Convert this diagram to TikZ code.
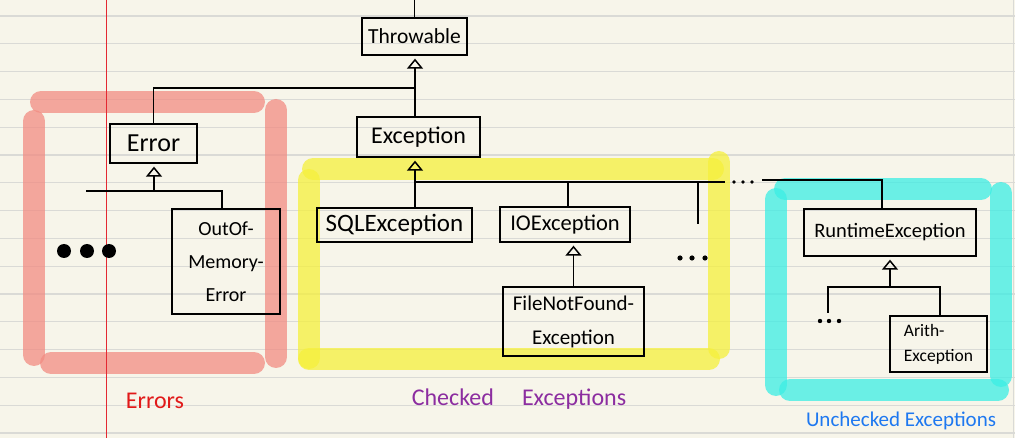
\documentclass[tikz,border=0pt]{standalone}
\usepackage{fontspec}
\setmainfont{Carlito}
\usetikzlibrary{arrows.meta}
\definecolor{paper}{RGB}{247,245,234}
\definecolor{rulecol}{RGB}{218,218,214}
\definecolor{margincol}{RGB}{228,40,50}
\definecolor{hlred}{RGB}{242,140,130}
\definecolor{hlyellow}{RGB}{245,240,60}
\definecolor{hlcyan}{RGB}{60,238,228}
\definecolor{lblred}{RGB}{225,25,25}
\definecolor{lblpurple}{RGB}{140,45,160}
\definecolor{lblblue}{RGB}{30,120,240}
\begin{document}
\begin{tikzpicture}[x=1pt,y=-1pt,
  cls/.style={draw=black, line width=1.3pt, inner sep=0pt, align=center},
  fs/.style 2 args={font=\fontsize{#1}{#2}\selectfont},
  inh/.style={line width=1.3pt, -{Triangle[open,width=16pt,length=10pt,line width=1.5pt]}, shorten >=3pt},
  link/.style={line width=1.3pt},
  hl/.style={line width=22pt, line cap=round, opacity=0.75},
  dotm/.style={fill=black}
]
\fill[paper] (0,0) rectangle (1015,438);
\useasboundingbox (0,0) rectangle (1015,438);
\foreach \k in {0,...,15} \draw[rulecol, line width=1.2pt] (0,{16+27.8*\k}) -- (1015,{16+27.8*\k});
\draw[rulecol, line width=1.5pt] (1013.5,0) -- (1013.5,438);

% highlights
\draw[hl, hlred] (41,102) -- (254,102);
\draw[hl, hlred] (34,121) -- (34,355);
\draw[hl, hlred] (51,363) -- (254,363);
\draw[hl, hlred] (276,110) -- (276,357);
\draw[hl, hlyellow] (313,169) -- (713,169);
\draw[hl, hlyellow] (309,180) -- (309,358);
\draw[hl, hlyellow] (309,359) -- (709,359);
\draw[hl, hlyellow] (719,162) -- (719,348);
\draw[hl, hlcyan] (785,189) -- (981,189);
\draw[hl, hlcyan] (776,199) -- (776,385);
\draw[hl, hlcyan] (790,390) -- (998,390);
\draw[hl, hlcyan] (1001,193) -- (1001,376);

\draw[margincol, line width=1pt] (106.5,0) -- (106.5,438);

% classes
\node[cls, fs={21.5}{26}, minimum width=105pt, minimum height=37pt] (thr) at (414.5,36.5) {Throwable};
\node[cls, fs={24}{28}, minimum width=123pt, minimum height=40pt] (exc) at (418.5,137) {Exception};
\node[cls, fs={26}{30}, minimum width=87pt, minimum height=39pt] (err) at (153.5,143.5) {Error};
\node[cls, fs={20}{33}, minimum width=108pt, minimum height=105pt] (oom) at (226,261.5) {OutOf-\\Memory-\\Error};
\node[cls, fs={25}{28}, minimum width=155pt, minimum height=34pt] (sql) at (394.5,225) {SQLException};
\node[cls, fs={22.5}{28}, minimum width=130pt, minimum height=35pt] (io) at (565,224.5) {IOException};
\node[cls, fs={21}{34}, minimum width=141pt, minimum height=69pt] (fnf) at (573.5,321.5) {FileNotFound-\\Exception};
\node[cls, fs={20.5}{28}, minimum width=172pt, minimum height=47pt] (rt) at (890,232.5) {RuntimeException};
\node[cls, fs={17.5}{25}, minimum width=97pt, minimum height=56pt, align=left] (ari) at (938.5,344) {Arith-\\Exception};

% connectors
\coordinate (top) at (414.5,0);
\draw[link] (thr.north) -- (top);
\coordinate (jT) at (415,88);
\draw[inh] (exc.north -| jT) -- (thr.south -| jT);
\draw[link] (err.north) |- (jT);

\coordinate (jE) at (154,191);
\coordinate (eL) at (86,191);
\draw[inh] (jE) -- (err.south -| jE);
\draw[link] (eL) -| ([xshift=-4pt]oom.north);

\coordinate (jX) at (415,182);
\coordinate (xE) at (725,182);
\draw[inh] (sql.north -| jX) -- (exc.south -| jX);
\draw[link] (jX) -- (xE);
\coordinate (jIO) at (568,182);
\draw[link] (jIO) -- (io.north -| jIO);
\coordinate (jD) at (698,182);
\coordinate (dE) at (698,224);
\draw[link] (jD) -- (dE);
\coordinate (rS) at (762,180);
\draw[link] (rS) -| ([xshift=-8pt]rt.north);

\draw[inh] (fnf.north) -- (fnf.north |- io.south);

\coordinate (jR) at (890,287);
\coordinate (rL) at (828,313);
\draw[inh] (jR) -- (rt.south -| jR);
\draw[link] (rL) |- (jR) -| ([xshift=1.5pt]ari.north);

% dots
\foreach \x in {64,87,109} \fill[dotm] (\x,251) circle (7);
\foreach \x in {680,692,705} \fill[dotm] (\x,258) circle (2.6);
\foreach \x in {820,829,839} \fill[dotm] (\x,321) circle (2.2);
\foreach \x in {734,743,752} \fill[dotm] (\x,182) circle (1.8);

% group labels
\node[text=lblred, fs={24}{28}] (lErr) at (155,401) {Errors};
\node[text=lblpurple, fs={24}{28}] (lChk) at (519,399) {Checked\hspace{28pt}Exceptions};
\node[text=lblblue, fs={21}{26}] (lUnc) at (901,421) {Unchecked Exceptions};
\end{tikzpicture}
\end{document}
